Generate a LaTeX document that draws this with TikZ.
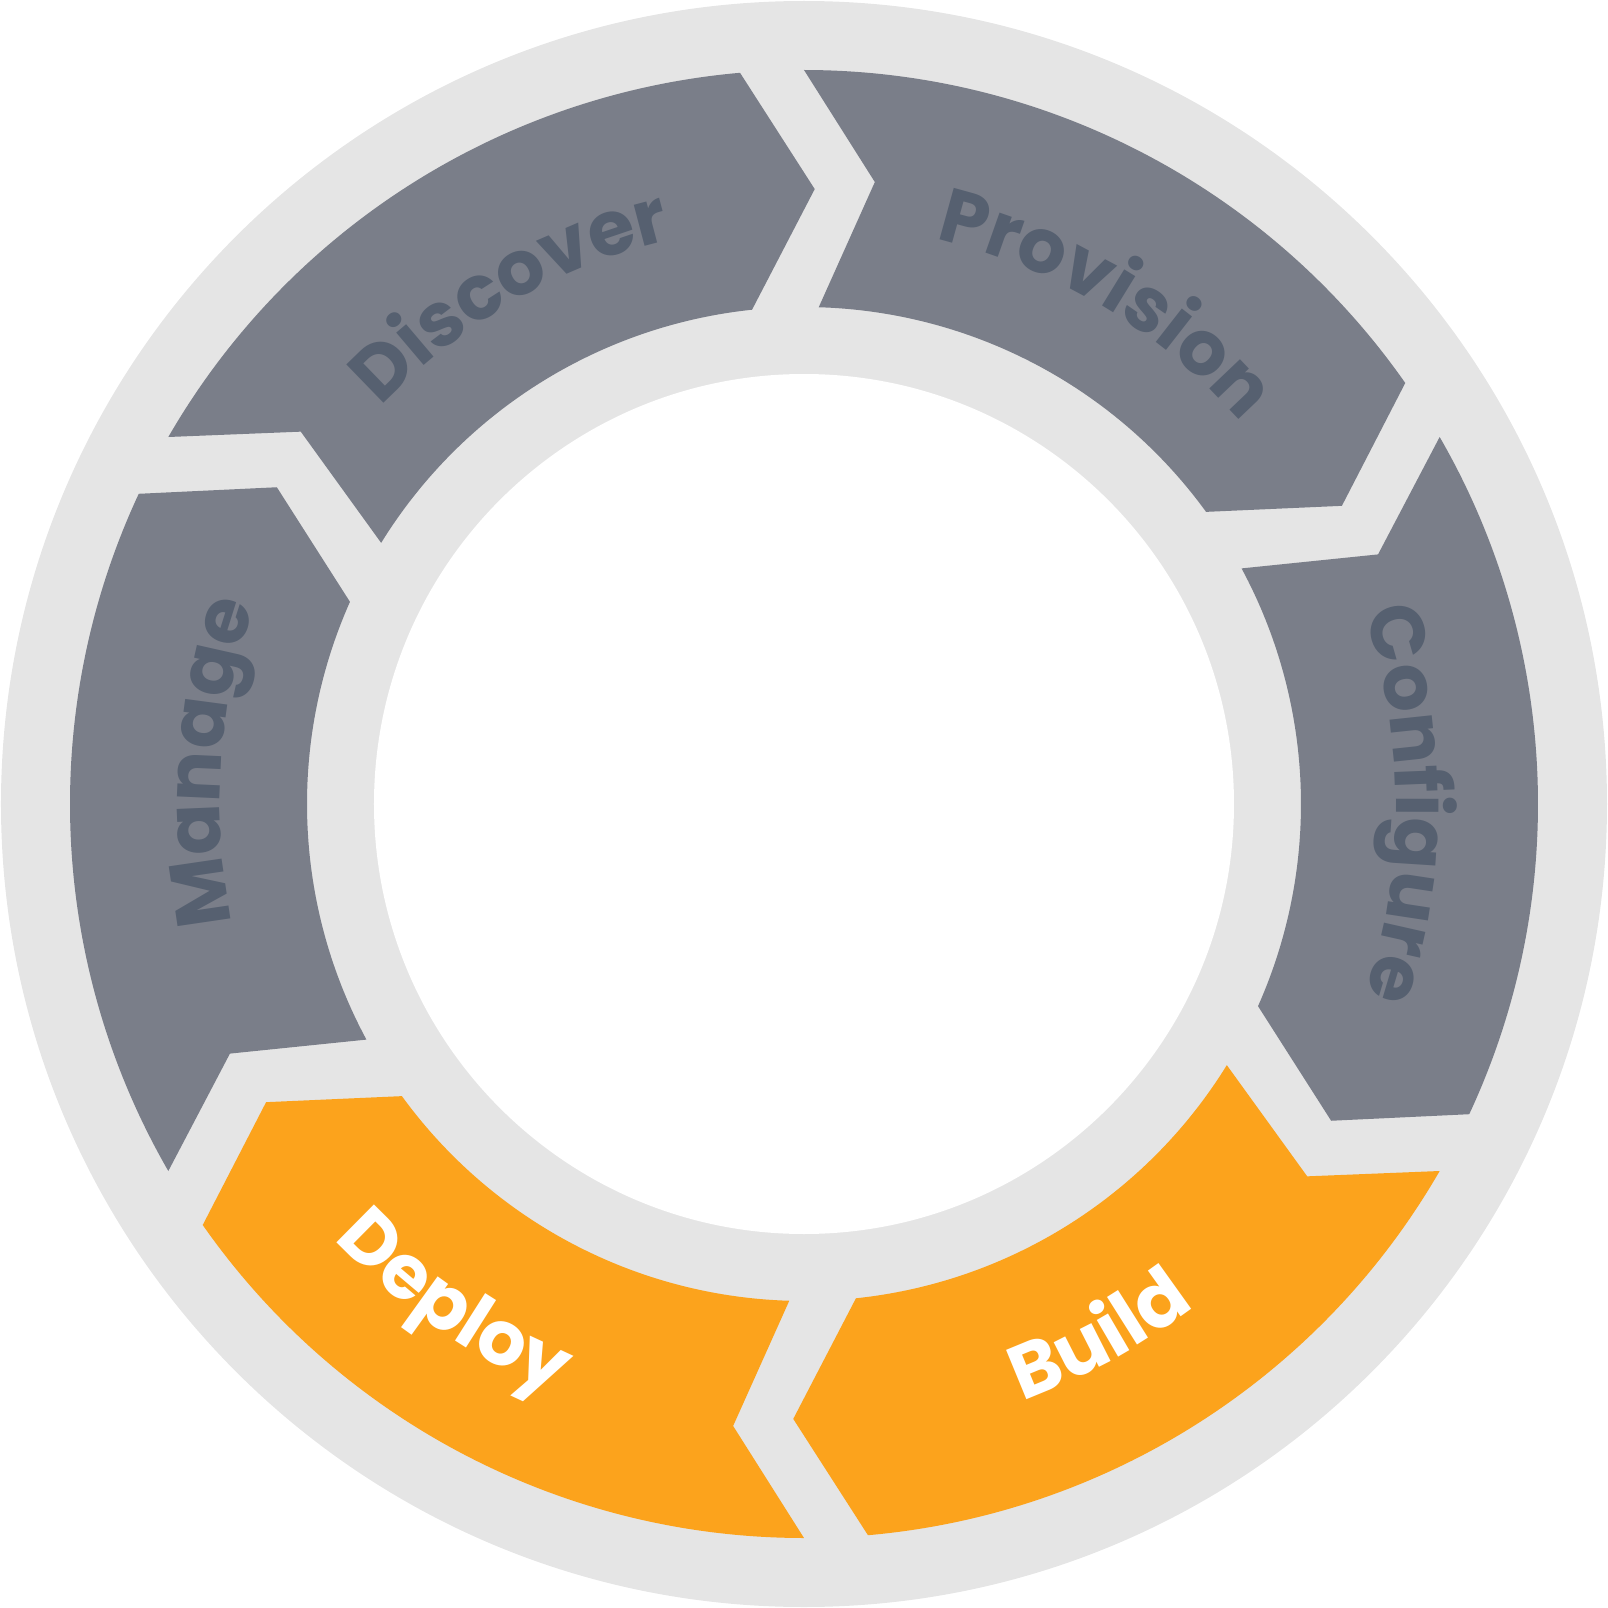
\documentclass[tikz,border=0pt]{standalone}
\usepackage{fontspec}
\newfontfamily\lblfont{Poppins}
\usetikzlibrary{decorations.text}
\definecolor{ringgray}{HTML}{E5E5E5}
\definecolor{seggray}{HTML}{7A7E89}
\definecolor{segorange}{HTML}{FCA31C}
\definecolor{txtgray}{HTML}{566070}
\tikzset{
  seg/.style={fill=#1, draw=none},
  cwtext/.style 2 args={decorate, decoration={text along path, text align=center,
     text={|\lblfont\bfseries\fontsize{38}{38}\selectfont\color{#1}|#2}}},
}
\newcommand{\segpath}[2]{%
  \fill[seg=#2] (#1:367pt) arc[start angle=#1, end angle=#1-55, radius=367pt]
    -- (#1-61:307.5pt) -- (#1-54:248.5pt)
    arc[start angle=#1-54, end angle=#1-1.7, radius=248.5pt]
    -- (#1-6.5:313pt) -- cycle;}
\begin{document}
\begin{tikzpicture}
\useasboundingbox (-402pt,-402pt) rectangle (402pt,402pt);
\fill[ringgray] (0,0) circle[radius=401.5pt];
\segpath{150}{seggray}
\segpath{90}{seggray}
\segpath{30}{seggray}
\segpath{-30}{segorange}
\segpath{-90}{segorange}
\segpath{210}{seggray}
\fill[white] (0,0) circle[radius=215pt];
% clockwise labels
\path[cwtext={txtgray}{Discover}] (160:290pt) arc[start angle=160, end angle=80, radius=290pt];
\path[cwtext={txtgray}{Provision}] (99:290pt) arc[start angle=99, end angle=19, radius=290pt];
\path[cwtext={txtgray}{Configure}] (40:296pt) arc[start angle=40, end angle=-40, radius=296pt];
\path[cwtext={txtgray}{Manage}] (216:292pt) arc[start angle=216, end angle=136, radius=292pt];
% counterclockwise labels
\path[cwtext={white}{Build}] (-101:318pt) arc[start angle=-101, end angle=-21, radius=318pt];
\path[cwtext={white}{Deploy}] (-165:320pt) arc[start angle=-165, end angle=-85, radius=320pt];
\end{tikzpicture}
\end{document}
